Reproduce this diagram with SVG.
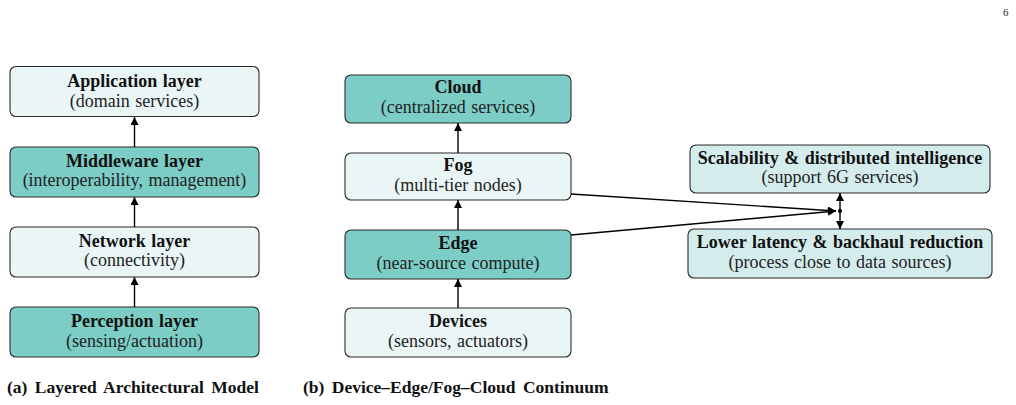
<svg xmlns="http://www.w3.org/2000/svg" width="1016" height="405" viewBox="0 0 1016 405">
<style>
.box{stroke:#2a2a2a;stroke-width:1.1}
.teal{fill:#7ccdc6}
.light{fill:#eaf6f6}
.pale{fill:#d4ecec}
.t{font-family:"Liberation Serif","Times New Roman",serif;font-size:18px;font-weight:bold;fill:#111;text-anchor:middle;word-spacing:1px}
.s{font-family:"Liberation Serif","Times New Roman",serif;font-size:18px;fill:#222;text-anchor:middle;word-spacing:1px}
.cap{font-family:"Liberation Serif","Times New Roman",serif;font-size:17.5px;font-weight:bold;fill:#111;word-spacing:3px}
.conn{stroke:#000;stroke-width:1.4;fill:none}
</style>
<defs>
<marker id="ah" viewBox="0 0 10 10" refX="10" refY="5" markerWidth="10" markerHeight="8" markerUnits="userSpaceOnUse" orient="auto">
<path d="M0,0 L10,5 L0,10 Z" fill="#000"/>
</marker>
</defs>
<text x="1003" y="16" font-family="Liberation Serif,serif" font-size="11" fill="#222">6</text>

<g id="app">
<rect class="box light" x="10" y="66.5" width="249" height="50" rx="6"/>
<text class="t" x="134.5" y="87">Application layer</text>
<text class="s" x="134.5" y="106.5">(domain services)</text>
</g>
<g id="middleware">
<rect class="box teal" x="10" y="147" width="249" height="50" rx="6"/>
<text class="t" x="134.5" y="166.5">Middleware layer</text>
<text class="s" x="134.5" y="186">(interoperability, management)</text>
</g>
<g id="network">
<rect class="box light" x="10" y="227" width="249" height="50" rx="6"/>
<text class="t" x="134.5" y="246.5">Network layer</text>
<text class="s" x="134.5" y="266">(connectivity)</text>
</g>
<g id="perception">
<rect class="box teal" x="10" y="307" width="249" height="50" rx="6"/>
<text class="t" x="134.5" y="327">Perception layer</text>
<text class="s" x="134.5" y="346.5">(sensing/actuation)</text>
</g>

<g id="cloud">
<rect class="box teal" x="345" y="75" width="226" height="48" rx="6"/>
<text class="t" x="458" y="93">Cloud</text>
<text class="s" x="458" y="112.5">(centralized services)</text>
</g>
<g id="fog">
<rect class="box light" x="345" y="153" width="226" height="47" rx="6"/>
<text class="t" x="458" y="171">Fog</text>
<text class="s" x="458" y="190.5">(multi-tier nodes)</text>
</g>
<g id="edge">
<rect class="box teal" x="345" y="230" width="226" height="49" rx="6"/>
<text class="t" x="458" y="249">Edge</text>
<text class="s" x="458" y="268.5">(near-source compute)</text>
</g>
<g id="devices">
<rect class="box light" x="345" y="308" width="226" height="49" rx="6"/>
<text class="t" x="458" y="327">Devices</text>
<text class="s" x="458" y="346.5">(sensors, actuators)</text>
</g>

<g id="scalability">
<rect class="box pale" x="690" y="145" width="300" height="48" rx="6"/>
<text class="t" x="840" y="163.5">Scalability &amp; distributed intelligence</text>
<text class="s" x="840" y="183">(support 6G services)</text>
</g>
<g id="latency">
<rect class="box pale" x="688" y="229" width="304" height="49" rx="6"/>
<text class="t" x="840" y="248">Lower latency &amp; backhaul reduction</text>
<text class="s" x="840" y="267.5">(process close to data sources)</text>
</g>

<g id="connectors">
<line class="conn" x1="134.5" y1="147" x2="134.5" y2="117" marker-end="url(#ah)"/>
<line class="conn" x1="134.5" y1="227" x2="134.5" y2="197" marker-end="url(#ah)"/>
<line class="conn" x1="134.5" y1="307" x2="134.5" y2="277" marker-end="url(#ah)"/>
<line class="conn" x1="458" y1="153" x2="458" y2="123" marker-end="url(#ah)"/>
<line class="conn" x1="458" y1="230" x2="458" y2="200" marker-end="url(#ah)"/>
<line class="conn" x1="458" y1="308" x2="458" y2="279" marker-end="url(#ah)"/>
<line class="conn" x1="571" y1="194" x2="836" y2="211" marker-end="url(#ah)"/>
<line class="conn" x1="571" y1="235" x2="836" y2="211" marker-end="url(#ah)"/>
<line class="conn" x1="840" y1="211" x2="840" y2="193" marker-end="url(#ah)"/>
<line class="conn" x1="840" y1="211" x2="840" y2="229" marker-end="url(#ah)"/>
<circle cx="840" cy="211" r="2" fill="#000"/>
</g>

<text class="cap" x="7" y="393">(a) Layered Architectural Model</text>
<text class="cap" x="303" y="393">(b) Device–Edge/Fog–Cloud Continuum</text>
</svg>
